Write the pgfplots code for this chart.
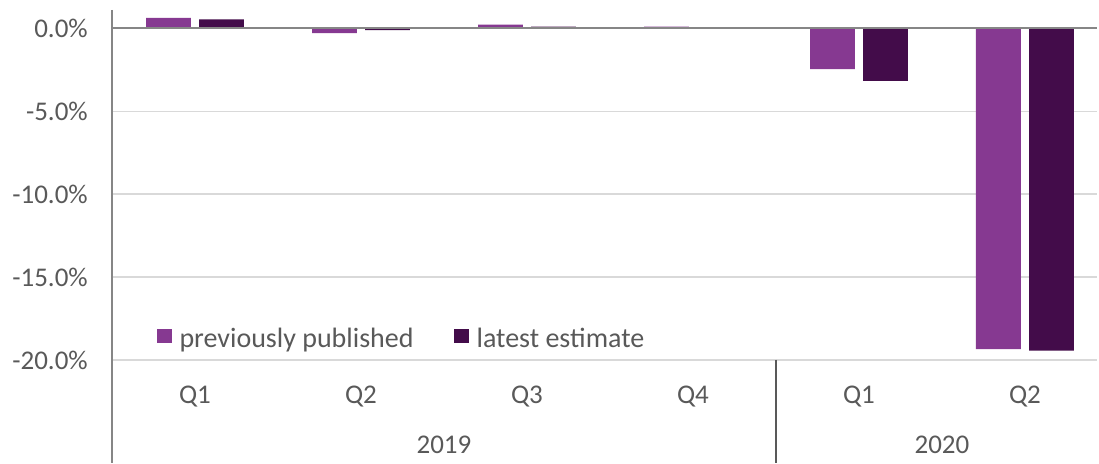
\documentclass[border=0pt]{standalone}
\usepackage{fontspec}
\setmainfont{Carlito}
\usepackage{pgfplots}
\pgfplotsset{compat=1.18}
\definecolor{prev}{RGB}{134,57,145}
\definecolor{late}{RGB}{67,12,74}
\definecolor{txt}{RGB}{89,89,89}
\definecolor{gridc}{RGB}{217,217,217}
\definecolor{axc}{RGB}{134,134,134}
\begin{document}
\begin{tikzpicture}
\begin{axis}[
  scale only axis, width=985pt, height=350pt,
  xmin=-0.5, xmax=5.434, ymin=-20, ymax=1.1,
  clip=false,
  axis line style={draw=none},
  major tick length=0pt,
  xtick={0,1,2,3,4,5}, xticklabels={Q1,Q2,Q3,Q4,Q1,Q2},
  ytick={-20,-15,-10,-5,0},
  ymajorgrids, grid style={gridc, line width=1.3pt},
  /pgf/number format/assume math mode=true,
  yticklabel={\pgfmathprintnumber[fixed,fixed zerofill,precision=1]{\tick}\%},
  tick label style={font=\fontsize{27}{32}\selectfont, text=txt},
  yticklabel style={anchor=east, inner sep=0pt, xshift=-24pt},
  xticklabel style={anchor=north, inner sep=0pt, yshift=-26pt},
  legend columns=2,
  legend style={draw=none, fill=none, inner sep=0pt, at={(0.045,0.021)}, anchor=south west,
    font=\fontsize{28}{33}\selectfont, text=txt, nodes={inner sep=3pt},
    /tikz/every odd column/.append style={column sep=5pt},
    /tikz/every even column/.append style={column sep=37pt}},
  legend cell align=left,
  legend image code/.code={\fill[#1] (0pt,-4.5pt) rectangle (15pt,9.5pt);},
]
\addplot[ybar, bar width=0.27, bar shift=-0.16, fill=prev, draw=none]
  coordinates {(0,0.62) (1,-0.30) (2,0.22) (3,0.10) (4,-2.46) (5,-19.35)};
\addlegendentry{previously published}
\addplot[ybar, bar width=0.27, bar shift=0.16, fill=late, draw=none]
  coordinates {(0,0.54) (1,-0.12) (2,0.10) (3,0.02) (4,-3.17) (5,-19.43)};
\addlegendentry{latest estimate}
\draw[axc, line width=2pt] (axis cs:-0.5,0) -- (axis cs:5.434,0);
\draw[axc, line width=1.6pt] (axis cs:-0.5,1.1) -- ([yshift=-103pt]axis cs:-0.5,-20);
\draw[txt, line width=1.2pt] (axis cs:3.5,-20) -- ([yshift=-103pt]axis cs:3.5,-20);
\node[font=\fontsize{27}{32}\selectfont, text=txt] at ([yshift=-85pt]axis cs:1.5,-20) {2019};
\node[font=\fontsize{27}{32}\selectfont, text=txt] at ([yshift=-85pt]axis cs:4.5,-20) {2020};
\path ([xshift=-112pt,yshift=-103pt]axis cs:-0.5,-20) rectangle ([xshift=2pt,yshift=10pt]axis cs:5.434,1.1);
\end{axis}
\end{tikzpicture}
\end{document}
